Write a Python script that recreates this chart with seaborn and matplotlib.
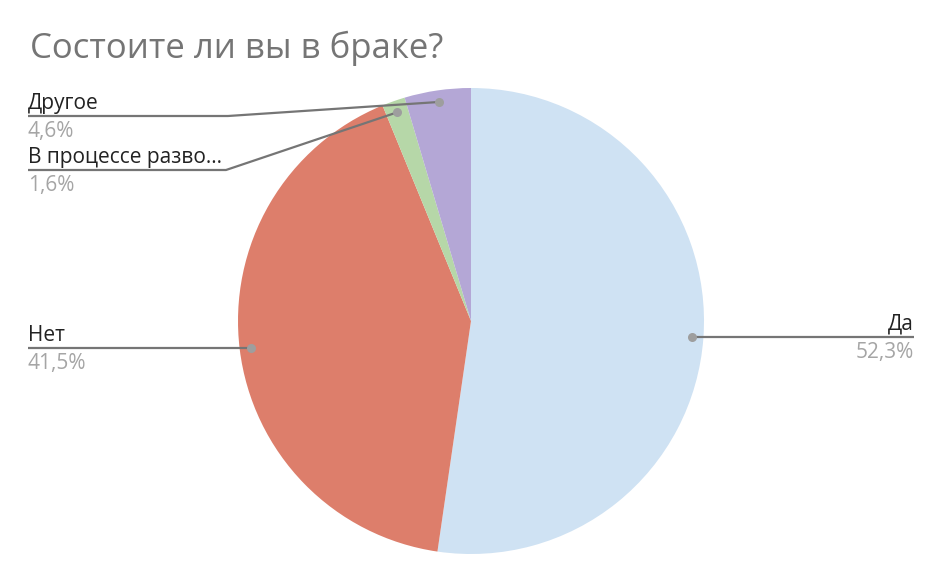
import numpy as np
import matplotlib
matplotlib.use("Agg")
import matplotlib.pyplot as plt
import seaborn as sns

categories = ["Да", "Нет", "В процессе разво...", "Другое"]
values = [52.3, 41.5, 1.6, 4.6]
pct_labels = ["52,3%", "41,5%", "1,6%", "4,6%"]
colors = ["#CFE2F3", "#DD7E6B", "#B6D7A8", "#B4A7D6"]

sns.set_theme(style="white")
plt.rcParams["font.family"] = ["Open Sans", "DejaVu Sans"]

W, H = 944, 584
fig = plt.figure(figsize=(W / 100, H / 100), dpi=100)
ax = fig.add_axes([0, 0, 1, 1])

def Y(p):
    return H - p

cx, cy, R = 471, 321, 233
wedges, _ = ax.pie(values, colors=colors, startangle=90, counterclock=False,
                   center=(cx, Y(cy)), radius=R,
                   wedgeprops=dict(linewidth=0))
ax.set_xlim(0, W)
ax.set_ylim(0, H)
ax.set_aspect("equal")
ax.axis("off")

ax.text(30, Y(48), "Состоите ли вы в браке?", fontsize=25, color="#757575",
        va="center", ha="left")

# label layout: (text x, line y, elbow x, align)
layout = {
    "Да": (914, 337, None, "right"),
    "Нет": (28, 348, None, "left"),
    "В процессе разво...": (28, 170, 226, "left"),
    "Другое": (28, 116, 228, "left"),
}

line_col = "#757575"
dot_col = "#9E9E9E"
total = sum(values)
cum = 0
for cat, v, pl in zip(categories, values, pct_labels):
    mid = 90 - (cum + v / 2) / total * 360
    cum += v
    a = np.deg2rad(mid)
    dx = cx + 0.95 * R * np.cos(a)
    dy = Y(cy) + 0.95 * R * np.sin(a)
    tx, ly, ex, align = layout[cat]
    if align == "right":
        xs = [dx, tx]
        ys = [Y(ly), Y(ly)]
    else:
        if ex is None:
            xs = [tx, dx]
            ys = [Y(ly), Y(ly)]
        else:
            xs = [tx, ex, dx]
            ys = [Y(ly), Y(ly), dy]
    ax.plot(xs, ys, color=line_col, lw=1.6, solid_capstyle="butt", zorder=3)
    ax.plot([dx], [dy], "o", color=dot_col, ms=6.5, mec="none", zorder=4)
    ax.text(tx, Y(ly) + 2, cat, fontsize=15, color="#222222",
            ha=align, va="bottom")
    ax.text(tx, Y(ly) - 5, pl, fontsize=15, color="#A5A5A5",
            ha=align, va="top")

fig.savefig("out.png", dpi=100, facecolor="white")
